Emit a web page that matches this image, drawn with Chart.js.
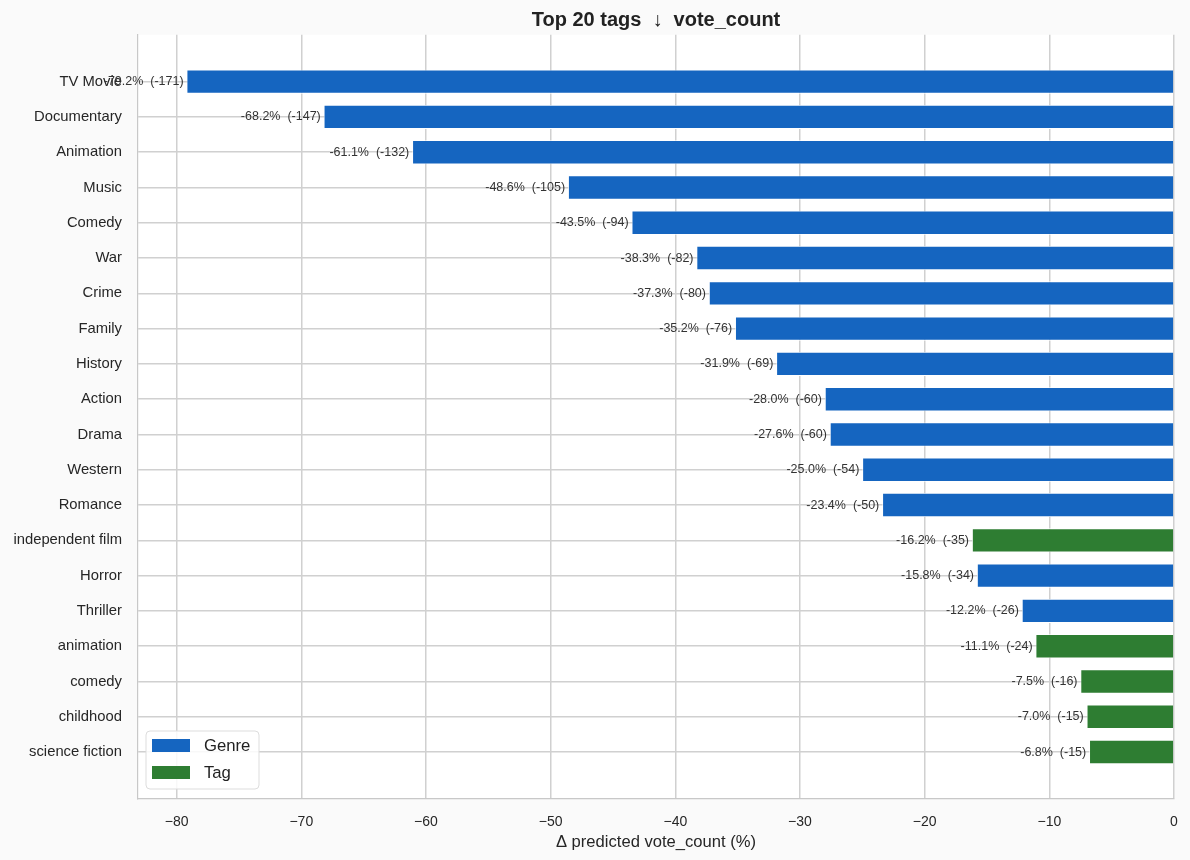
<!DOCTYPE html>
<html>
<head>
<meta charset="utf-8">
<script src="https://cdn.jsdelivr.net/npm/chart.js@4.4.1/dist/chart.umd.min.js"></script>
<style>
html,body{margin:0;padding:0;background:#fafafa;}
#wrap{width:1190px;height:860px;}
</style>
</head>
<body>
<div id="wrap"><canvas id="c" width="1190" height="860"></canvas></div>
<script>
const categories = ["TV Movie","Documentary","Animation","Music","Comedy","War","Crime","Family","History","Action","Drama","Western","Romance","independent film","Horror","Thriller","animation","comedy","childhood","science fiction"];
const pctValues = [-79.2,-68.2,-61.1,-48.6,-43.5,-38.3,-37.3,-35.2,-31.9,-28.0,-27.6,-25.0,-23.4,-16.2,-15.8,-12.2,-11.1,-7.5,-7.0,-6.8];
const absValues = [-171,-147,-132,-105,-94,-82,-80,-76,-69,-60,-60,-54,-50,-35,-34,-26,-24,-16,-15,-15];
const kinds = ["Genre","Genre","Genre","Genre","Genre","Genre","Genre","Genre","Genre","Genre","Genre","Genre","Genre","Tag","Genre","Genre","Tag","Tag","Tag","Tag"];
const xTicks = [-80,-70,-60,-50,-40,-30,-20,-10,0];
const legendNames = ["Genre","Tag"];
const kindColors = {Genre:"#1565C0", Tag:"#2E7D32"};

const FONT = '"Liberation Sans", Arial, Helvetica, sans-serif';

const bgPlugin = {
  id:'bg',
  beforeDraw(chart){
    const ctx = chart.ctx, a = chart.chartArea;
    ctx.save();
    ctx.fillStyle = '#fafafa';
    ctx.fillRect(0,0,chart.width,chart.height);
    ctx.fillStyle = '#ffffff';
    ctx.fillRect(a.left,a.top,a.right-a.left,a.bottom-a.top);
    ctx.restore();
  }
};

const labelPlugin = {
  id:'barlabels',
  afterDatasetsDraw(chart){
    const ctx = chart.ctx;
    const meta = chart.getDatasetMeta(0);
    ctx.save();
    ctx.font = '12.5px ' + FONT;
    ctx.fillStyle = '#333333';
    ctx.textAlign = 'right';
    ctx.textBaseline = 'middle';
    meta.data.forEach((el,i)=>{
      const txt = pctValues[i].toFixed(1) + '%  (' + absValues[i] + ')';
      ctx.fillText(txt, el.x - 3, el.y);
    });
    ctx.restore();
  }
};

const titleLegendPlugin = {
  id:'titleLegend',
  afterDraw(chart){
    const ctx = chart.ctx, a = chart.chartArea;
    ctx.save();
    ctx.font = 'bold 20px ' + FONT;
    ctx.fillStyle = '#222222';
    ctx.textAlign = 'center';
    ctx.textBaseline = 'alphabetic';
    ctx.fillText('Top 20 tags  \u2193  vote_count', (a.left + a.right)/2, 26);
    const bx = 146, by = 731, bw = 113, bh = 58, r = 4;
    ctx.beginPath();
    ctx.moveTo(bx+r,by);
    ctx.lineTo(bx+bw-r,by); ctx.quadraticCurveTo(bx+bw,by,bx+bw,by+r);
    ctx.lineTo(bx+bw,by+bh-r); ctx.quadraticCurveTo(bx+bw,by+bh,bx+bw-r,by+bh);
    ctx.lineTo(bx+r,by+bh); ctx.quadraticCurveTo(bx,by+bh,bx,by+bh-r);
    ctx.lineTo(bx,by+r); ctx.quadraticCurveTo(bx,by,bx+r,by);
    ctx.closePath();
    ctx.fillStyle = 'rgba(255,255,255,0.85)';
    ctx.fill();
    ctx.strokeStyle = '#dddddd';
    ctx.lineWidth = 1;
    ctx.stroke();
    ctx.font = '16.7px ' + FONT;
    ctx.textAlign = 'left';
    ctx.textBaseline = 'middle';
    legendNames.forEach((n,i)=>{
      const py = 739 + i*27;
      ctx.fillStyle = kindColors[n];
      ctx.fillRect(152, py, 38, 13);
      ctx.fillStyle = '#222222';
      ctx.fillText(n, 204, py + 7.5);
    });
    ctx.restore();
  }
};

const data = pctValues.map((v,i)=>({x:v, y:i}));

new Chart(document.getElementById('c'), {
  type:'bar',
  data:{
    datasets:[{
      data: data,
      backgroundColor: kinds.map(k=>kindColors[k]),
      borderColor:'#ffffff',
      borderWidth:0.8,
      barPercentage:1.0,
      categoryPercentage:0.68
    }]
  },
  options:{
    indexAxis:'y',
    responsive:false,
    animation:false,
    devicePixelRatio:1,
    layout:{padding:{top:34.7,right:16,left:0,bottom:0}},
    plugins:{legend:{display:false},tooltip:{enabled:false},title:{display:false}},
    scales:{
      x:{
        type:'linear',
        min:-83.1, max:0,
        afterBuildTicks(s){ s.ticks = xTicks.map(v=>({value:v})); },
        afterFit(s){ s.height = 61; s.paddingRight = 0; s.paddingLeft = 0; },
        grid:{color:'#d0d0d0', lineWidth:1.5, drawTicks:false},
        border:{display:true, color:'#c8c8c8', width:1.2},
        ticks:{
          padding:15,
          color:'#262626',
          font:{family:FONT, size:14},
          callback:(v)=> v<0 ? '\u2212' + Math.abs(v) : String(v)
        },
        title:{display:true, text:'\u0394 predicted vote_count (%)', color:'#262626',
          font:{family:FONT, size:16.6}, padding:{top:0,bottom:8}}
      },
      y:{
        type:'linear',
        reverse:true,
        offset:false,
        min:-1.33, max:categories.length - 1 + 1.33,
        afterBuildTicks(s){ s.ticks = categories.map((c,i)=>({value:i})); },
        afterFit(s){ s.width = 138; },
        grid:{color:'#d0d0d0', lineWidth:1.5, drawTicks:false, offset:false},
        border:{display:true, color:'#c8c8c8', width:1.2},
        ticks:{
          padding:16,
          color:'#262626',
          font:{family:FONT, size:14.8},
          callback:(v)=> categories[v] !== undefined ? categories[v] : ''
        }
      }
    }
  },
  plugins:[bgPlugin, labelPlugin, titleLegendPlugin]
});
</script>
</body>
</html>
